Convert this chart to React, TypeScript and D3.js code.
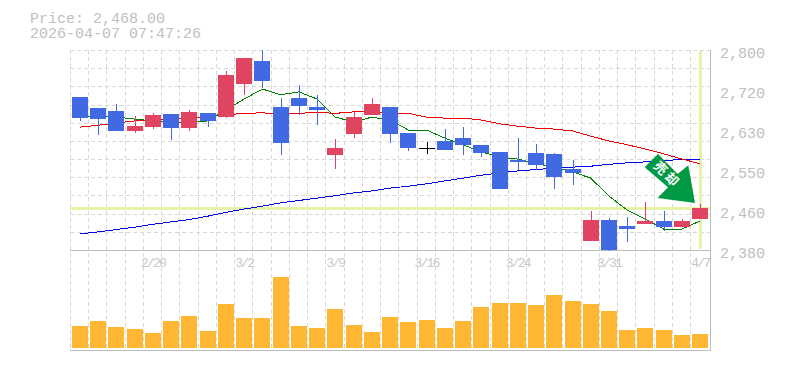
import React from "react";
import * as d3 from "d3";

const priceLabels = ["2,800", "2,720", "2,630", "2,550", "2,460", "2,380"];
const headerLines = ["Price: 2,468.00", "2026-04-07 07:47:26"];
const dateLabels: [number, string][] = [[4, "2/20"], [9, "3/2"], [14, "3/9"], [19, "3/16"], [24, "3/24"], [29, "3/31"], [34, "4/7"]];
const lastPrice = 2468;

const opens = [2701, 2678, 2672, 2630, 2638, 2666, 2636, 2668, 2659, 2729, 2777, 2680, 2699, 2680, 2580, 2624, 2664, 2680, 2626, 2594, 2609, 2615, 2601, 2586, 2569, 2584, 2582, 2550, 2399, 2443, 2430, 2435, 2441, 2428, 2445];
const highs = [2701, 2678, 2687, 2661, 2668, 2666, 2674, 2668, 2756, 2783, 2800, 2699, 2727, 2706, 2613, 2670, 2699, 2680, 2626, 2607, 2634, 2638, 2601, 2586, 2615, 2603, 2584, 2569, 2462, 2447, 2449, 2481, 2462, 2445, 2477];
const lows = [2651, 2622, 2630, 2626, 2634, 2611, 2630, 2638, 2657, 2706, 2720, 2580, 2664, 2642, 2550, 2615, 2664, 2605, 2588, 2582, 2590, 2580, 2575, 2508, 2548, 2548, 2508, 2517, 2399, 2378, 2397, 2435, 2420, 2428, 2445];
const closes = [2657, 2655, 2630, 2640, 2664, 2636, 2670, 2651, 2748, 2783, 2735, 2605, 2682, 2674, 2594, 2659, 2687, 2624, 2594, 2594, 2590, 2601, 2584, 2508, 2565, 2559, 2533, 2542, 2443, 2380, 2424, 2441, 2428, 2441, 2468];
const downCandle = [1, 1, 1, 0, 0, 1, 0, 1, 0, 0, 1, 1, 1, 1, 0, 0, 0, 1, 1, 2, 1, 1, 1, 1, 1, 1, 1, 1, 0, 1, 1, 0, 1, 0, 0];

const maShort = [2661, 2661, 2659, 2655, 2651, 2647, 2649, 2651, 2674, 2697, 2718, 2706, 2712, 2697, 2659, 2649, 2659, 2653, 2632, 2632, 2615, 2601, 2586, 2575, 2571, 2561, 2554, 2544, 2531, 2493, 2464, 2445, 2424, 2424, 2441];
const maMid = [2638, 2642, 2647, 2651, 2653, 2655, 2657, 2659, 2664, 2667, 2668, 2666, 2667, 2669, 2667, 2670, 2670, 2668, 2667, 2659, 2657, 2657, 2653, 2645, 2640, 2636, 2634, 2630, 2619, 2609, 2601, 2592, 2582, 2571, 2561];
const maLong = [2414, 2418, 2423, 2428, 2434, 2439, 2444, 2451, 2459, 2466, 2472, 2479, 2484, 2489, 2494, 2500, 2504, 2510, 2514, 2519, 2525, 2531, 2537, 2542, 2546, 2549, 2552, 2554, 2556, 2560, 2563, 2565, 2568, 2570, 2571];

const volumes = [22, 27, 21, 19, 15, 27, 32, 17, 44, 30, 30, 71, 22, 20, 39, 23, 16, 31, 26, 28, 20, 27, 41, 45, 45, 43, 53, 47, 44, 37, 18, 20, 18, 13, 14];

const L = 70, R = 710, T = 50, B = 250, VB = 350;
const GRAY = "#c0c0c0";
const FONT = "'Liberation Mono', monospace";

export default function App() {
  const idx = d3.range(opens.length);
  const x = d3.scaleLinear().domain([0, 34]).range([80, 700.2]);
  const y = d3.scaleLinear().domain([2800, 2380]).range([T, B]);
  const v = d3.scaleLinear().domain([0, 98]).range([348, 250]);
  const line = (s: number[]) =>
    d3.line<number>().x((_, i) => x(i)).y((d) => y(d))(s) as string;
  const hGrid = d3.range(0, 11).map((k) => Math.round(T + (k * (B - T)) / 11) + 0.5);
  const vGrid = d3.range(0, 35).map((k) => L + k * 18.24);
  const lastY = Math.round(y(lastPrice));
  const arrow = [[644.7, 167.3], [658, 154], [677.7, 174], [688.3, 165.3], [695, 203], [657.7, 198], [668, 187.3]];

  return (
    <svg width={785} height={370} style={{ position: "absolute", left: 0, top: 0, background: "#fff" }}>
      <g stroke="#d8d8d8" strokeDasharray="4 3" strokeWidth={1} shapeRendering="crispEdges">
        {hGrid.map((g, i) => <line key={i} x1={L} x2={R} y1={g} y2={g} />)}
        {vGrid.map((g, i) => <line key={i} x1={Math.round(g) + 0.5} x2={Math.round(g) + 0.5} y1={T} y2={VB} />)}
      </g>
      <g shapeRendering="crispEdges">
        <rect x={L} y={B} width={R - L + 1} height={1} fill="#bdbdbd" />
        <rect x={L} y={VB} width={R - L + 1} height={1} fill="#bdbdbd" />
        <rect x={R} y={T} width={1} height={VB - T} fill="#bdbdbd" />
        <rect x={L} y={lastY - 1} width={R - L} height={3} fill="#e4f3a8" />
        <rect x={699} y={T + 1} width={3} height={198} fill="#e4f3a8" />
      </g>
      <g fill="#ffb733" shapeRendering="crispEdges">
        {idx.map((i) => (
          <rect key={i} x={Math.round(x(i) - 8)} y={v(volumes[i])} width={16} height={348 - v(volumes[i])} />
        ))}
      </g>
      <g fill="none" strokeWidth={1} shapeRendering="crispEdges">
        <path d={line(maLong)} stroke="#0000ee" />
        <path d={line(maMid)} stroke="#f00000" />
        <path d={line(maShort)} stroke="#008000" />
      </g>
      <g shapeRendering="crispEdges">
        {idx.map((i) => {
          const left = Math.round(x(i) - 8);
          const top = Math.round(y(Math.max(opens[i], closes[i])));
          const bot = Math.round(y(Math.min(opens[i], closes[i])));
          const hi = Math.round(y(highs[i]));
          const lo = Math.round(y(lows[i]));
          const kind = downCandle[i];
          const fill = kind === 2 ? "#000000" : kind === 1 ? "#4169e1" : "#e04460";
          return (
            <g key={i} fill={fill}>
              <rect x={left + 8} y={hi} width={1} height={Math.max(lo - hi, 1)} />
              <rect x={left} y={top} width={16} height={Math.max(bot - top, 1)} />
            </g>
          );
        })}
      </g>
      <polygon points={arrow.map((p) => p.join(",")).join(" ")} fill="#009944" />
      <text
        x={666.5}
        y={175.5}
        transform="rotate(45 666.5 175.5)"
        textAnchor="middle"
        dominantBaseline="middle"
        fill="#fff"
        fontSize={13}
        letterSpacing={3}
        fontWeight={700}
        fontFamily="'Noto Sans CJK JP', sans-serif"
      >
        売却
      </text>
      <g fill={GRAY} fontFamily={FONT} fontSize={15}>
        <text x={30} y={23}>
          <tspan x={30} y={23}>{headerLines[0]}</tspan>
          <tspan x={30} y={38}>{headerLines[1]}</tspan>
        </text>
        {priceLabels.map((t, i) => (
          <text key={t} x={720} y={T + i * 40 + 8}>{t}</text>
        ))}
      </g>
      <g fill="#c8c8c8" fontFamily={FONT} fontSize={13} letterSpacing={-1.8} textAnchor="middle">
        {dateLabels.map(([i, t]) => (
          <text key={t} x={x(i)} y={266.5}>{t}</text>
        ))}
      </g>
    </svg>
  );
}
